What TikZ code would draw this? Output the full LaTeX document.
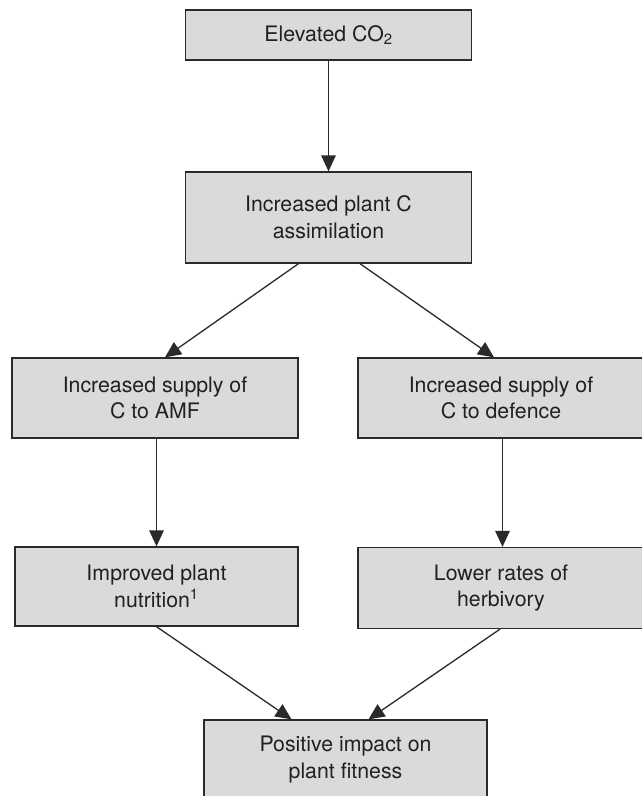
\documentclass[tikz,border=0pt]{standalone}
\usepackage{fontspec}
\setmainfont{TeX Gyre Heros}
\usetikzlibrary{arrows.meta}
\definecolor{boxfill}{HTML}{D9DADC}
\definecolor{boxline}{HTML}{2A2A2A}
\definecolor{txt}{HTML}{231F20}
\tikzset{
  flowbox/.style={draw=boxline, fill=boxfill, line width=1.3pt, inner sep=0pt,
    align=center, text=txt, font=\fontsize{21.3}{26.7}\selectfont},
  flowarrow/.style={draw=boxline, line width=1.3pt, -{Triangle[length=16pt,width=14.5pt]}}
}
\begin{document}
\begin{tikzpicture}[x=1pt,y=-1pt]
\useasboundingbox (0,0) rectangle (642,796);
\fill[white] (0,0) rectangle (642,796);
\node[flowbox, minimum width=286pt, minimum height=50pt] (b1) at (328.5,35) {Elevated CO\textsubscript{2}};
\node[flowbox, minimum width=286pt, minimum height=91pt] (b2) at (328.5,217.5) {Increased plant C\\assimilation};
\node[flowbox, minimum width=286pt, minimum height=80pt] (b3) at (155,398) {Increased supply of\\C to AMF};
\node[flowbox, minimum width=286pt, minimum height=80pt] (b4) at (501,398) {Increased supply of\\C to defence};
\node[flowbox, minimum width=283pt, minimum height=79pt] (b5) at (156.5,586.5) {Improved plant\\nutrition\textsuperscript{1}};
\node[flowbox, minimum width=286pt, minimum height=81pt] (b6) at (501,588) {Lower rates of\\herbivory};
\node[flowbox, minimum width=283pt, minimum height=79pt] (b7) at (345.5,759.5) {Positive impact on\\plant fitness};
\draw[flowarrow] (b1.south) -- (b2.north);
\draw[flowarrow] ([xshift=-30pt]b2.south) -- ([xshift=10pt]b3.north);
\draw[flowarrow] ([xshift=31.5pt]b2.south) -- ([xshift=-7pt]b4.north);
\draw[flowarrow] (b5.north |- b3.south) -- (b5.north);
\draw[flowarrow] ([xshift=1.5pt]b4.south) -- ([xshift=1.5pt]b6.north);
\draw[flowarrow] (b5.south) -- ([xshift=-54pt]b7.north);
\draw[flowarrow] ([xshift=-1pt]b6.south) -- ([xshift=23pt]b7.north);
\end{tikzpicture}
\end{document}
